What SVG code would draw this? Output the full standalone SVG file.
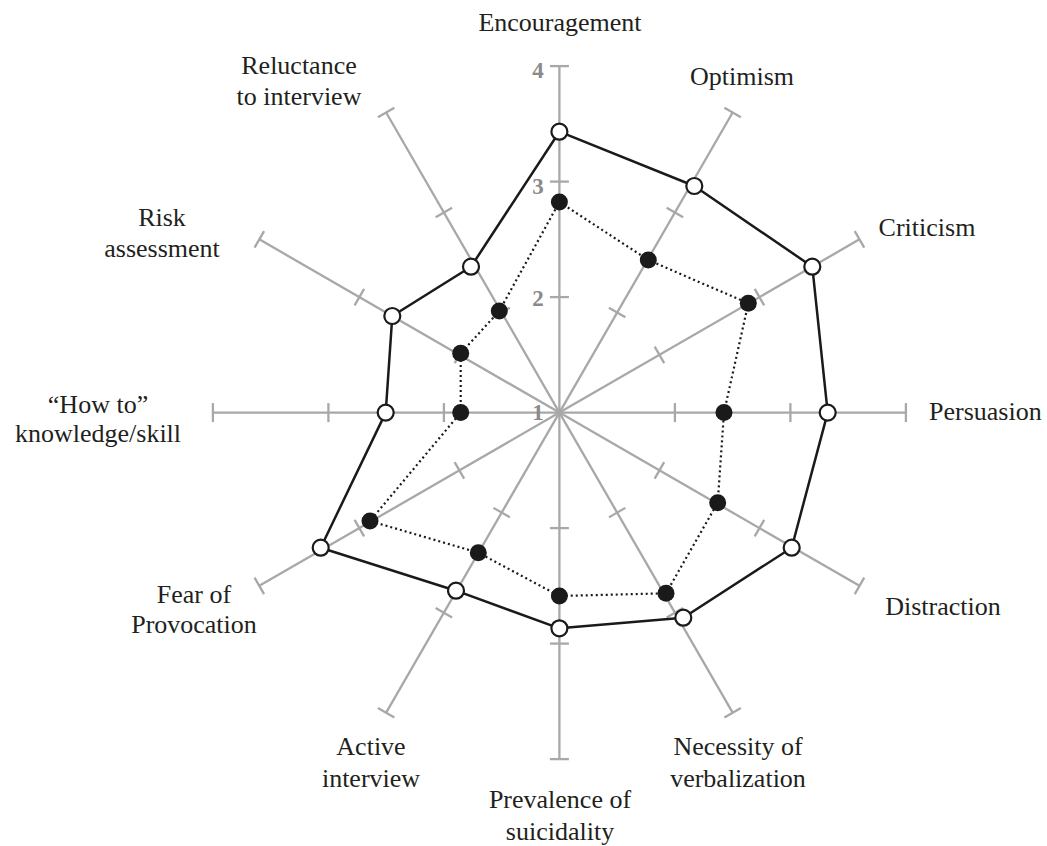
<svg xmlns="http://www.w3.org/2000/svg" xmlns:xlink="http://www.w3.org/1999/xlink" width="1047" height="846" viewBox="0 0 1047 846">
<style>
.ax{stroke:#a8a8a8;stroke-width:2.3;fill:none}
.lbl{font-family:"Liberation Serif","Times New Roman",serif;font-size:26px;fill:#231f20;text-anchor:middle}
.num{font-family:"Liberation Serif","Times New Roman",serif;font-size:23px;font-weight:bold;fill:#8a8a8a;text-anchor:middle}
.solid{fill:none;stroke:#1a1a1a;stroke-width:2.5;stroke-linejoin:round}
.dot{fill:none;stroke:#1a1a1a;stroke-width:2.2;stroke-dasharray:2 3}
.wc{fill:#fff;stroke:#1a1a1a;stroke-width:2.2}
.bc{fill:#1a1a1a;stroke:none}
</style>
<defs>
<g id="axis">
<line class="ax" x1="559.4" y1="412.6" x2="905.9" y2="412.6"/>
<line class="ax" x1="674.9" y1="403.1" x2="674.9" y2="422.1"/>
<line class="ax" x1="790.4" y1="403.1" x2="790.4" y2="422.1"/>
<line class="ax" x1="905.9" y1="403.1" x2="905.9" y2="422.1"/>
</g>
</defs>
<g id="axes">
<use xlink:href="#axis"/>
<use xlink:href="#axis" transform="rotate(-30 559.4 412.6)"/>
<use xlink:href="#axis" transform="rotate(-60 559.4 412.6)"/>
<use xlink:href="#axis" transform="rotate(-90 559.4 412.6)"/>
<use xlink:href="#axis" transform="rotate(-120 559.4 412.6)"/>
<use xlink:href="#axis" transform="rotate(-150 559.4 412.6)"/>
<use xlink:href="#axis" transform="rotate(180 559.4 412.6)"/>
<use xlink:href="#axis" transform="rotate(150 559.4 412.6)"/>
<use xlink:href="#axis" transform="rotate(120 559.4 412.6)"/>
<use xlink:href="#axis" transform="rotate(90 559.4 412.6)"/>
<use xlink:href="#axis" transform="rotate(60 559.4 412.6)"/>
<use xlink:href="#axis" transform="rotate(30 559.4 412.6)"/>
</g>
<g id="scale">
<text class="num" x="538" y="78">4</text>
<text class="num" x="538" y="194">3</text>
<text class="num" x="538" y="306">2</text>
<text class="num" x="538" y="420">1</text>
</g>
<g id="connectors">
<polygon class="dot" points="559.4,202 648.3,260 748.3,303.3 724,412.6 717.7,502.7 666,593.3 559.4,596 478.3,552.7 370,521 460.7,412.6 460.7,353.3 499.3,311"/>
<polygon class="solid" points="559.4,131.7 694.3,186 812.3,266.7 827.7,412.6 791.7,547.7 683.3,617.7 559.4,628.3 456,590.7 320.7,547.7 385.7,412.6 392.3,316 471,266.7"/>
</g>
<g id="series-dotted">
<circle class="bc" cx="559.4" cy="202" r="8.5"/>
<circle class="bc" cx="648.3" cy="260" r="8.5"/>
<circle class="bc" cx="748.3" cy="303.3" r="8.5"/>
<circle class="bc" cx="724" cy="412.6" r="8.5"/>
<circle class="bc" cx="717.7" cy="502.7" r="8.5"/>
<circle class="bc" cx="666" cy="593.3" r="8.5"/>
<circle class="bc" cx="559.4" cy="596" r="8.5"/>
<circle class="bc" cx="478.3" cy="552.7" r="8.5"/>
<circle class="bc" cx="370" cy="521" r="8.5"/>
<circle class="bc" cx="460.7" cy="412.6" r="8.5"/>
<circle class="bc" cx="460.7" cy="353.3" r="8.5"/>
<circle class="bc" cx="499.3" cy="311" r="8.5"/>
</g>
<g id="series-solid">
<circle class="wc" cx="559.4" cy="131.7" r="8"/>
<circle class="wc" cx="694.3" cy="186" r="8"/>
<circle class="wc" cx="812.3" cy="266.7" r="8"/>
<circle class="wc" cx="827.7" cy="412.6" r="8"/>
<circle class="wc" cx="791.7" cy="547.7" r="8"/>
<circle class="wc" cx="683.3" cy="617.7" r="8"/>
<circle class="wc" cx="559.4" cy="628.3" r="8"/>
<circle class="wc" cx="456" cy="590.7" r="8"/>
<circle class="wc" cx="320.7" cy="547.7" r="8"/>
<circle class="wc" cx="385.7" cy="412.6" r="8"/>
<circle class="wc" cx="392.3" cy="316" r="8"/>
<circle class="wc" cx="471" cy="266.7" r="8"/>
</g>
<g id="label-encouragement"><text class="lbl" x="560" y="31">Encouragement</text></g>
<g id="label-optimism"><text class="lbl" x="742" y="85">Optimism</text></g>
<g id="label-criticism"><text class="lbl" x="927" y="236">Criticism</text></g>
<g id="label-persuasion"><text class="lbl" x="929" y="420" style="text-anchor:start">Persuasion</text></g>
<g id="label-distraction"><text class="lbl" x="943" y="615">Distraction</text></g>
<g id="label-necessity"><text class="lbl" x="738" y="755">Necessity of</text><text class="lbl" x="738" y="787">verbalization</text></g>
<g id="label-prevalence"><text class="lbl" x="560" y="808">Prevalence of</text><text class="lbl" x="560" y="840">suicidality</text></g>
<g id="label-active"><text class="lbl" x="371" y="755">Active</text><text class="lbl" x="371" y="787">interview</text></g>
<g id="label-fear"><text class="lbl" x="194" y="603">Fear of</text><text class="lbl" x="194" y="633">Provocation</text></g>
<g id="label-howto"><text class="lbl" x="98" y="413">“How to”</text><text class="lbl" x="98" y="442">knowledge/skill</text></g>
<g id="label-risk"><text class="lbl" x="162" y="226">Risk</text><text class="lbl" x="162" y="257">assessment</text></g>
<g id="label-reluctance"><text class="lbl" x="299" y="74">Reluctance</text><text class="lbl" x="299" y="105">to interview</text></g>
</svg>
